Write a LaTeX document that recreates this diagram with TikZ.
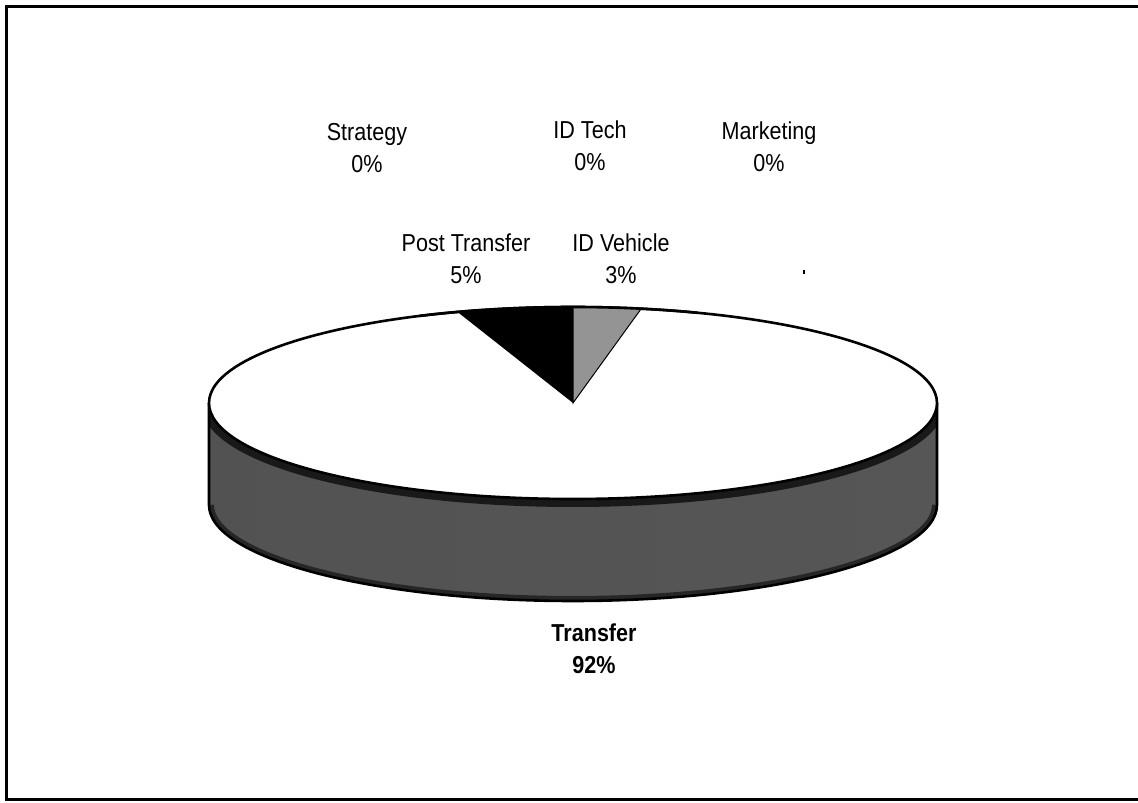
\documentclass[tikz,border=0pt]{standalone}
\usepackage{fontspec}
\setmainfont{Liberation Sans}
\newfontfamily\lblfont[FakeStretch=0.88]{Liberation Sans}
\pgfdeclarehorizontalshading{cylside}{100bp}{color(0bp)=(black); color(7bp)=(black!85); color(16bp)=(black!68); color(86bp)=(black!66); color(95bp)=(black!88); color(100bp)=(black)}
\begin{document}
\begin{tikzpicture}[x=1pt,y=1pt,
  lbl/.style={align=center, font=\lblfont\fontsize{24.5}{32}\selectfont, inner sep=0pt},
  blbl/.style={lbl, font=\lblfont\fontsize{24.5}{32}\selectfont\bfseries},
  frameline/.style={line width=3pt, black},
  rimline/.style={line width=2.6pt, black}]
\useasboundingbox (0,0) rectangle (1138,803);
% frame (right edge cut off)
\draw[frameline] (1138,796) -- (6,796) -- (6,3) -- (1138,3);
% pie centre
\coordinate (c) at (573,400);
\coordinate (cl) at (209,400);
\coordinate (cr) at (937,400);
% side of the cylinder
\begin{scope}
\clip (cl) -- ++(0,-102) arc[start angle=180, end angle=360, x radius=364, y radius=96] -- (cr) arc[start angle=0, end angle=-180, x radius=364, y radius=96] -- cycle;
\path[shading=cylside] (cl) rectangle (937,200);
\draw[black!90, line width=16pt] (cl) arc[start angle=180, end angle=360, x radius=364, y radius=96];
\draw[black!85, line width=10pt] (209,298) arc[start angle=180, end angle=360, x radius=364, y radius=96];
\end{scope}
\draw[rimline] (cl) -- ++(0,-102) arc[start angle=180, end angle=360, x radius=364, y radius=96] -- (cr);
% top face
\draw[rimline, fill=white] (c) ellipse[x radius=364, y radius=96];
% Post Transfer wedge (black)
\fill[black] (c) -- ++(90:364 and 96) arc[start angle=90, end angle=108.5, x radius=364, y radius=96] -- cycle;
% ID Vehicle wedge (dotted grey)
\filldraw[fill=black!42, draw=black, line width=1pt] (c) -- ++(79.2:364 and 96) arc[start angle=79.2, end angle=90, x radius=364, y radius=96] -- cycle;
\draw[rimline] (c) ++(70:364 and 96) arc[start angle=70, end angle=115, x radius=364, y radius=96];
% speck
\fill[black] (803,529) rectangle (805,533);
% labels
\node[lbl] (strategy) at (367,654.5) {Strategy\\0\%};
\node[lbl] (idtech) at (590,657.5) {ID Tech\\0\%};
\node[lbl] (marketing) at (769,656.5) {Marketing\\0\%};
\node[lbl] (posttransfer) at (466,544.5) {Post Transfer\\5\%};
\node[lbl] (idvehicle) at (621,544.5) {ID Vehicle\\3\%};
\node[blbl] (transfer) at (594,154) {Transfer\\92\%};
\end{tikzpicture}
\end{document}
